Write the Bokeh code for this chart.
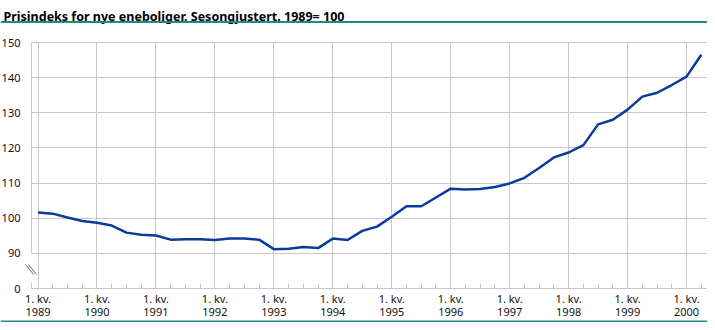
from bokeh.plotting import figure
from bokeh.models import Range1d, FixedTicker, LinearAxis, Label, Span, Grid
from bokeh.embed import file_html
from bokeh.resources import INLINE

# ---------------- data ----------------
title_text = "Prisindeks for nye eneboliger. Sesongjustert. 1989= 100"
years = list(range(1989, 2001))
quarter_index = list(range(46))  # 1989 Q1 .. 2000 Q2
index_values = [
    101.6, 101.3, 100.2, 99.2,   # 1989
    98.7, 97.9, 95.9, 95.3,      # 1990
    95.1, 93.9, 94.0, 94.0,      # 1991
    93.8, 94.2, 94.2, 93.9,      # 1992
    91.2, 91.3, 91.8, 91.5,      # 1993
    94.2, 93.8, 96.4, 97.6,      # 1994
    100.4, 103.4, 103.4, 105.9,  # 1995
    108.4, 108.2, 108.3, 108.9,  # 1996
    109.9, 111.5, 114.3, 117.3,  # 1997
    118.7, 120.8, 126.7, 128.0,  # 1998
    130.9, 134.6, 135.7, 137.9,  # 1999
    140.3, 146.5,                # 2000
]
y_ticks = [90, 100, 110, 120, 130, 140, 150]
y_zero_tick = 80
y_zero_label = "0"
x_year_ticks = [4 * i for i in range(len(years))]
x_tick_labels = ["1. kv.\n" + str(y) for y in years]

# ---------------- layout (pixels) ----------------
W, H = 707, 322
PX_AXIS_X = 31.0      # y-axis position
PX_Q0 = 37.5          # first quarter
PX_STEP = 14.74       # pixels per quarter
PX_TOP = 42.0         # y pixel of 150
PX_BOTTOM = 288.0     # y pixel of axis (value 80 -> "0")
K = (PX_BOTTOM - PX_TOP) / 70.0

def dx(px):
    return (px - PX_Q0) / PX_STEP

def dy(py):
    return 150.0 - (py - PX_TOP) / K

FONT = "Noto Sans"
GRID = "#c8c8c8"
TEAL = "#1f8a8c"
TXT = "#111111"

p = figure(width=W, height=H, output_backend="svg", toolbar_location=None,
           x_range=Range1d(dx(0), dx(W)), y_range=Range1d(dy(H), dy(0)),
           x_axis_type=None, y_axis_type=None,
           min_border_left=0, min_border_right=0, min_border_top=0, min_border_bottom=0)
p.outline_line_color = None
p.background_fill_color = "white"
p.border_fill_color = "white"

x_left = dx(PX_AXIS_X)
x_right = dx(W)

# grids
p.add_layout(Grid(dimension=0, ticker=FixedTicker(ticks=x_year_ticks), grid_line_color=GRID,
                  grid_line_width=1, cross_bounds=(y_zero_tick, 150)))
p.add_layout(Grid(dimension=1, ticker=FixedTicker(ticks=y_ticks), grid_line_color=GRID,
                  grid_line_width=1, cross_bounds=(x_left, x_right)))

# x axis
xaxis = LinearAxis(ticker=FixedTicker(ticks=x_year_ticks, minor_ticks=quarter_index),
                   major_label_overrides={t: l for t, l in zip(x_year_ticks, x_tick_labels)},
                   fixed_location=y_zero_tick, bounds=(x_left, x_right))
xaxis.axis_line_color = GRID
xaxis.major_tick_line_color = GRID
xaxis.minor_tick_line_color = GRID
xaxis.major_tick_in = 8
xaxis.major_tick_out = 0
xaxis.minor_tick_in = 5
xaxis.minor_tick_out = 0
xaxis.major_label_standoff = 2
xaxis.major_label_text_font = FONT
xaxis.major_label_text_font_size = "11px"
xaxis.major_label_text_color = TXT
xaxis.major_label_text_line_height = 0.92
p.add_layout(xaxis, "below")

# y axis (upper part 90-150)
yaxis = LinearAxis(ticker=FixedTicker(ticks=y_ticks), fixed_location=x_left, bounds=(90, 150))
# y axis (lower stub with "0")
yaxis0 = LinearAxis(ticker=FixedTicker(ticks=[y_zero_tick]), fixed_location=x_left,
                    bounds=(y_zero_tick, dy(PX_BOTTOM - 6)),
                    major_label_overrides={y_zero_tick: y_zero_label})
for ax in (yaxis, yaxis0):
    ax.axis_line_color = GRID
    ax.major_tick_in = 0
    ax.major_tick_out = 0
    ax.minor_tick_line_color = None
    ax.major_label_standoff = 11
    ax.major_label_text_font = FONT
    ax.major_label_text_font_size = "11px"
    ax.major_label_text_color = TXT
    p.add_layout(ax, "left")

# axis break marks
p.segment(x0=[dx(25), dx(28)], y0=[dy(264), dy(264)], x1=[dx(33), dx(36)], y1=[dy(274), dy(274)],
          line_color="#666666", line_width=1)

# data line
p.line(quarter_index, index_values, line_color="#0a3a9c", line_width=2.5)

# title and rules
p.add_layout(Label(x=3, y=H - 16, x_units="screen", y_units="screen", text=title_text,
                   text_font=FONT, text_font_size="12.5px", text_font_style="bold",
                   text_color="#000000", text_baseline="alphabetic"))
p.add_layout(Span(location=dy(21.5), dimension="width", line_color=TEAL, line_width=2))
p.add_layout(Span(location=dy(321), dimension="width", line_color=TEAL, line_width=2))

open("out.html", "w").write(file_html(p, INLINE))
